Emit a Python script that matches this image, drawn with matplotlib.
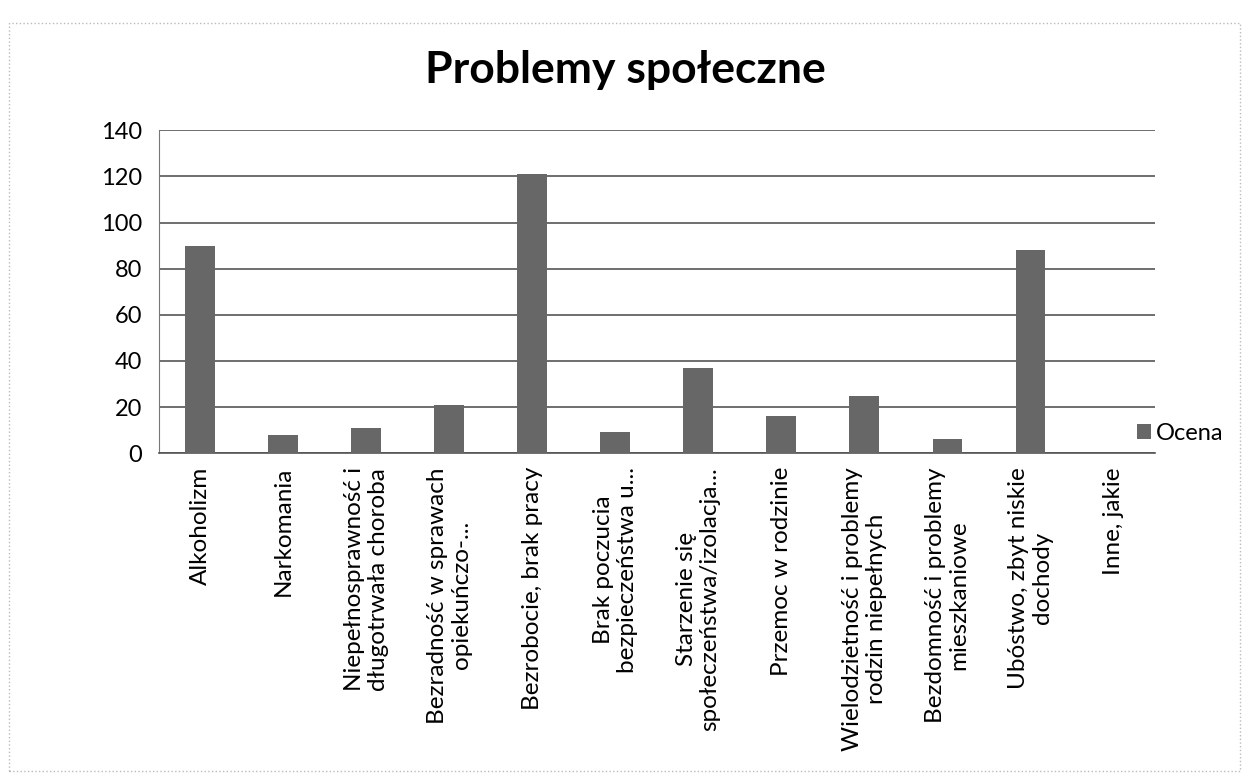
import matplotlib.pyplot as plt
from matplotlib.patches import Rectangle

plt.rcParams['font.family'] = ['Lato', 'DejaVu Sans']

categories = [
    "Alkoholizm",
    "Narkomania",
    "Niepełnosprawność i\ndługotrwała choroba",
    "Bezradność w sprawach\nopiekuńczo-...",
    "Bezrobocie, brak pracy",
    "Brak poczucia\nbezpieczeństwa u...",
    "Starzenie się\nspołeczeństwa/izolacja...",
    "Przemoc w rodzinie",
    "Wielodzietność i problemy\nrodzin niepełnych",
    "Bezdomność i problemy\nmieszkaniowe",
    "Ubóstwo, zbyt niskie\ndochody",
    "Inne, jakie",
]
ocena = [90, 8, 11, 21, 121, 9, 37, 16, 25, 6, 88, 0]
yticks = [0, 20, 40, 60, 80, 100, 120, 140]

fig = plt.figure(figsize=(12.5, 7.8), dpi=100)
ax = fig.add_axes([0.127, 0.419, 0.797, 0.414])

x = range(len(categories))
ax.bar(x, ocena, width=0.36, color='#676767', label='Ocena', zorder=3)

ax.set_xlim(-0.5, len(categories) - 0.5)
ax.set_ylim(0, 140)
ax.set_yticks(yticks)
ax.set_yticklabels([str(v) for v in yticks], fontsize=17)
ax.yaxis.grid(True, color='#555555', linewidth=1.2, zorder=0)
ax.set_xticks(list(x))
ax.set_xticklabels(categories, rotation=90, fontsize=17.5, va='top',
                   ha='center', multialignment='center', linespacing=1.15)
ax.tick_params(axis='both', length=0)
ax.tick_params(axis='x', pad=10)
ax.tick_params(axis='y', pad=12)

for s in ['top', 'right']:
    ax.spines[s].set_visible(False)
ax.spines['left'].set_color('#777777')
ax.spines['bottom'].set_color('#555555')
ax.spines['bottom'].set_linewidth(1.2)

fig.text(0.5, 0.91, "Problemy społeczne", ha='center', va='center',
         fontsize=32, fontweight='bold')

ax.legend(loc='lower left', bbox_to_anchor=(0.972, 0.0), frameon=False,
          fontsize=17, handlelength=0.6, handleheight=0.6, handletextpad=0.2,
          borderaxespad=0)

fig.patches.append(Rectangle((0.007, 0.012), 0.985, 0.958, fill=False,
                             edgecolor='#bbbbbb', linewidth=1,
                             linestyle=':', transform=fig.transFigure))

fig.savefig('out.png', dpi=100, facecolor='white')
